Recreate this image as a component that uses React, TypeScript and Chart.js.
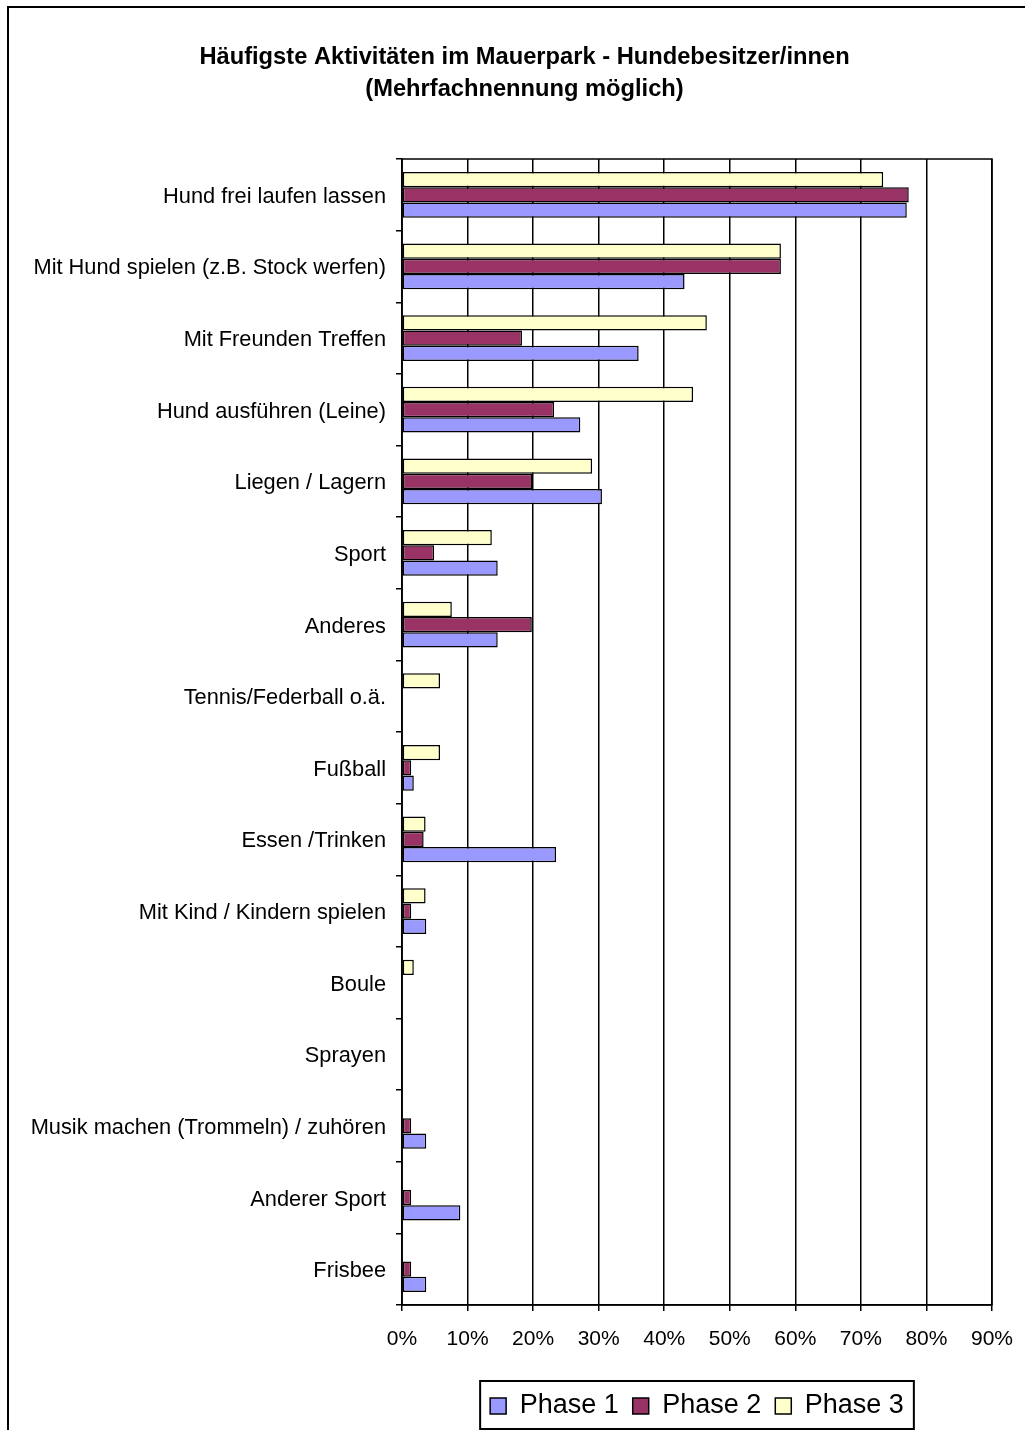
import React, { useEffect, useRef } from "react";
import { Chart, registerables } from "chart.js";

Chart.register(...registerables);

const categories = [
  "Hund frei laufen lassen",
  "Mit Hund spielen (z.B. Stock werfen)",
  "Mit Freunden Treffen",
  "Hund ausführen (Leine)",
  "Liegen / Lagern",
  "Sport",
  "Anderes",
  "Tennis/Federball o.ä.",
  "Fußball",
  "Essen /Trinken",
  "Mit Kind / Kindern spielen",
  "Boule",
  "Sprayen",
  "Musik machen (Trommeln) / zuhören",
  "Anderer Sport",
  "Frisbee",
];

const phase1 = [77.0, 43.1, 36.1, 27.2, 30.5, 14.6, 14.6, 0, 1.8, 23.5, 3.7, 0, 0, 3.7, 8.9, 3.7];
const phase2 = [77.3, 57.8, 18.3, 23.2, 19.9, 4.9, 19.8, 0, 1.4, 3.3, 1.4, 0, 0, 1.4, 1.4, 1.4];
const phase3 = [73.4, 57.8, 46.5, 44.4, 29.0, 13.7, 7.6, 5.8, 5.8, 3.6, 3.6, 1.8, 0, 0, 0, 0];

const seriesLabels = ["Phase 1", "Phase 2", "Phase 3"];
const seriesColors = ["#9999FF", "#993366", "#FFFFCC"];

const titleLines = [
  "Häufigste Aktivitäten im Mauerpark - Hundebesitzer/innen",
  "(Mehrfachnennung möglich)",
];

const xTickMax = 90;
const xTickStep = 10;

const FONT = "'Liberation Sans', Arial, sans-serif";

const frameBorderPlugin = {
  id: "frameBorders",
  afterDraw(chart: any) {
    const { ctx, chartArea } = chart;
    ctx.save();
    ctx.strokeStyle = "#000";
    ctx.lineWidth = 1.5;
    ctx.strokeRect(
      chartArea.left,
      chartArea.top,
      chartArea.right - chartArea.left,
      chartArea.bottom - chartArea.top
    );
    const legend = chart.legend;
    if (legend && legend.legendHitBoxes && legend.legendHitBoxes.length) {
      const hbs = legend.legendHitBoxes;
      let l = Infinity;
      let r = -Infinity;
      for (const hb of hbs) {
        l = Math.min(l, hb.left);
        r = Math.max(r, hb.left + hb.width);
      }
      ctx.lineWidth = 2;
      ctx.strokeRect(l - 10, legend.top + 2.5, r - l + 20, legend.bottom - legend.top - 3);
    }
    ctx.restore();
  },
};

export default function App() {
  const canvasRef = useRef<HTMLCanvasElement | null>(null);

  useEffect(() => {
    if (!canvasRef.current) return;
    const chart = new Chart(canvasRef.current, {
      type: "bar",
      data: {
        labels: categories,
        datasets: [
          {
            label: seriesLabels[2],
            data: phase3,
            backgroundColor: seriesColors[2],
            borderColor: "#000",
            borderWidth: 1.5,
            borderSkipped: false,
          },
          {
            label: seriesLabels[1],
            data: phase2,
            backgroundColor: seriesColors[1],
            borderColor: "#000",
            borderWidth: 1.5,
            borderSkipped: false,
          },
          {
            label: seriesLabels[0],
            data: phase1,
            backgroundColor: seriesColors[0],
            borderColor: "#000",
            borderWidth: 1.5,
            borderSkipped: false,
          },
        ],
      },
      options: {
        indexAxis: "y",
        animation: false,
        responsive: false,
        devicePixelRatio: 1,
        datasets: {
          bar: {
            categoryPercentage: 0.64,
            barPercentage: 1,
          },
        },
        layout: {
          padding: { left: 0, right: 11, top: 0, bottom: 0.5 },
        },
        plugins: {
          title: {
            display: true,
            text: titleLines,
            color: "#000",
            font: { family: FONT, size: 23.7, weight: "bold", lineHeight: 32 / 23.7 },
            padding: { top: 41, bottom: 54 },
          },
          legend: {
            display: true,
            position: "bottom",
            fullSize: false,
            reverse: true,
            labels: {
              color: "#000",
              font: { family: FONT, size: 27 },
              boxWidth: 16,
              boxHeight: 16,
              padding: 14,
              generateLabels: (chart: any) =>
                chart.data.datasets.map((ds: any, i: number) => ({
                  text: ds.label,
                  fillStyle: ds.backgroundColor,
                  strokeStyle: "#000",
                  lineWidth: 1.5,
                  datasetIndex: i,
                  hidden: false,
                  fontColor: "#000",
                })),
            },
          },
          tooltip: { enabled: false },
        },
        scales: {
          x: {
            type: "linear",
            min: 0,
            max: xTickMax,
            ticks: {
              stepSize: xTickStep,
              color: "#000",
              font: { family: FONT, size: 21 },
              padding: 16,
              callback: (v: any) => `${v}%`,
            },
            grid: {
              color: "#000",
              lineWidth: 1.5,
              drawOnChartArea: true,
              drawTicks: true,
              tickLength: 6,
            },
            border: { display: true, color: "#000", width: 1.5 },
            afterFit: (scale: any) => {
              scale.height = 73.5;
            },
          },
          y: {
            type: "category",
            position: "left",
            offset: true,
            ticks: {
              color: "#000",
              font: { family: FONT, size: 21.8 },
              padding: 10,
              labelOffset: 2,
              autoSkip: false,
            },
            grid: {
              offset: true,
              color: "#000",
              lineWidth: 1.5,
              drawOnChartArea: false,
              drawTicks: true,
              tickLength: 6,
            },
            border: { display: true, color: "#000", width: 1.5 },
            afterFit: (scale: any) => {
              scale.width = 402;
            },
          },
          ySpacer: {
            type: "category",
            position: "right",
            display: true,
            ticks: { display: false },
            grid: { display: false, drawTicks: false },
            border: { display: false },
            afterFit: (scale: any) => {
              scale.width = 57;
            },
          },
        },
      },
      plugins: [frameBorderPlugin],
    } as any);
    return () => chart.destroy();
  }, []);

  return (
    <div style={{ position: "absolute", left: 0, top: 0, width: 1025, height: 1430, background: "#fff", overflow: "hidden" }}>
      <div style={{ position: "absolute", left: 7, top: 6, right: 0, height: 2, background: "#000" }} />
      <div style={{ position: "absolute", left: 7, top: 6, width: 2, bottom: 0, background: "#000" }} />
      <canvas
        ref={canvasRef}
        width={1060}
        height={1430}
        style={{ position: "absolute", left: 0, top: 0, width: 1060, height: 1430, display: "block" }}
      />
    </div>
  );
}
